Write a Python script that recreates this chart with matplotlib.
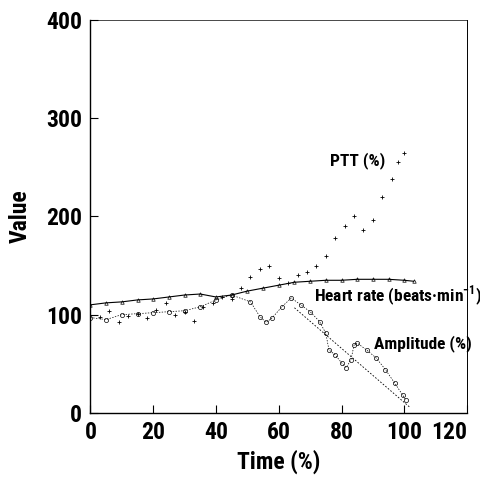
import matplotlib
matplotlib.use("Agg")
import matplotlib.pyplot as plt
from matplotlib import font_manager as fm

# PTT (%) - scattered crosses
ptt_time = [0, 3, 6, 9, 12, 15, 18, 21, 24, 27, 30, 33, 36, 39, 42, 45, 48,
            51, 54, 57, 60, 63, 66, 69, 72, 75, 78, 81, 84, 87, 90, 93, 96,
            98, 100]
ptt_value = [100, 98, 104, 92, 99, 101, 97, 105, 112, 100, 103, 94, 108, 112,
             118, 116, 127, 138, 146, 150, 137, 132, 140, 143, 150, 160, 178,
             190, 200, 186, 196, 220, 238, 255, 265]

# Heart rate (beats/min) - triangles
hr_time = [0, 5, 10, 15, 20, 25, 30, 35, 40, 45, 50, 55, 60, 65, 70, 75, 80,
           85, 90, 95, 100, 103]
hr_value = [110, 112, 113, 115, 116, 118, 120, 121, 118, 120, 124, 127, 130,
            133, 134, 135, 135, 136, 136, 136, 135, 134]

# Amplitude (%) - circles
amp_time = [0, 5, 10, 15, 20, 25, 30, 35, 40, 45, 51, 54, 56, 58, 61, 64, 67,
            70, 73, 75, 76, 78, 80, 81.5, 83, 84, 85, 88, 91, 94, 97, 99.5,
            100.5]
amp_value = [97, 95, 100, 101, 102, 103, 104, 108, 115, 120, 113, 98, 92, 97,
             108, 117, 110, 103, 93, 81, 64, 59, 51, 46, 54, 69, 71, 64, 56,
             44, 30, 18, 13]

# dashed trend through the falling amplitude
trend_time = [65, 102]
trend_value = [107, 5]

x_ticks = [0, 20, 40, 60, 80, 100, 120]
y_ticks = [0, 100, 200, 300, 400]


def pick_narrow_font():
    # look for any installed condensed / narrow face, else fall back
    names = {f.name for f in fm.fontManager.ttflist}
    for name in ["Liberation Sans Narrow", "Roboto Condensed",
                 "Open Sans Condensed", "DejaVu Sans Condensed",
                 "Noto Sans Condensed"]:
        if name in names:
            return name, "normal", 1.0
    for f in fm.fontManager.ttflist:
        if "condensed" in str(f.stretch).lower():
            return f.name, "condensed", 1.0
    return "DejaVu Sans", "normal", 0.8


FONT_NAME, FONT_STRETCH, SCALE = pick_narrow_font()
FONT = [FONT_NAME, "DejaVu Sans"]

fig = plt.figure(figsize=(4.81, 4.80), dpi=100)
ax = fig.add_axes([0.188, 0.140, 0.783, 0.818])

ax.plot(hr_time, hr_value, color="black", lw=0.8, marker="^", ms=2.5,
        mfc="none", mew=0.5)
ax.plot(amp_time, amp_value, color="black", lw=0.5, ls=(0, (2, 2)),
        marker="o", ms=3, mfc="none", mew=0.5)
ax.plot(ptt_time, ptt_value, ls="none", color="black", marker="+", ms=3.5,
        mew=0.6)
ax.plot(trend_time, trend_value, color="black", lw=0.6, ls=(0, (2, 2)))

label_kw = dict(family=FONT, fontweight="bold", fontstretch=FONT_STRETCH,
                fontsize=12.5 * SCALE, color="black")
ax.text(71.3, 119, "Heart rate (beats\u00b7min$^{\\mathregular{-1}}$)",
        va="center", ha="left", **label_kw)
ax.text(85, 257, "PTT (%)", va="center", ha="center", **label_kw)
ax.text(90.5, 71, "Amplitude (%)", va="center", ha="left", **label_kw)

ax.set_xlim(0, 120)
ax.set_ylim(0, 400)
ax.set_xticks(x_ticks)
ax.set_yticks(y_ticks)
ax.tick_params(direction="in", length=6, width=0.8, pad=6,
               labelsize=17 * SCALE)
for lab in ax.get_xticklabels() + ax.get_yticklabels():
    lab.set_family(FONT)
    lab.set_fontweight("bold")
    lab.set_fontstretch(FONT_STRETCH)
# keep the last x label inside the figure
ax.get_xticklabels()[-1].set_horizontalalignment("right")

ax.set_xlabel("Time (%)", family=FONT, fontweight="bold",
              fontstretch=FONT_STRETCH, fontsize=17 * SCALE, labelpad=4)
ax.set_ylabel("Value", family=FONT, fontweight="bold",
              fontstretch=FONT_STRETCH, fontsize=17 * SCALE, labelpad=10)

ax.spines["left"].set_linewidth(1.0)
ax.spines["bottom"].set_linewidth(1.0)
ax.spines["top"].set_linewidth(0.5)
ax.spines["right"].set_linewidth(0.7)

fig.savefig("out.png", dpi=100)
